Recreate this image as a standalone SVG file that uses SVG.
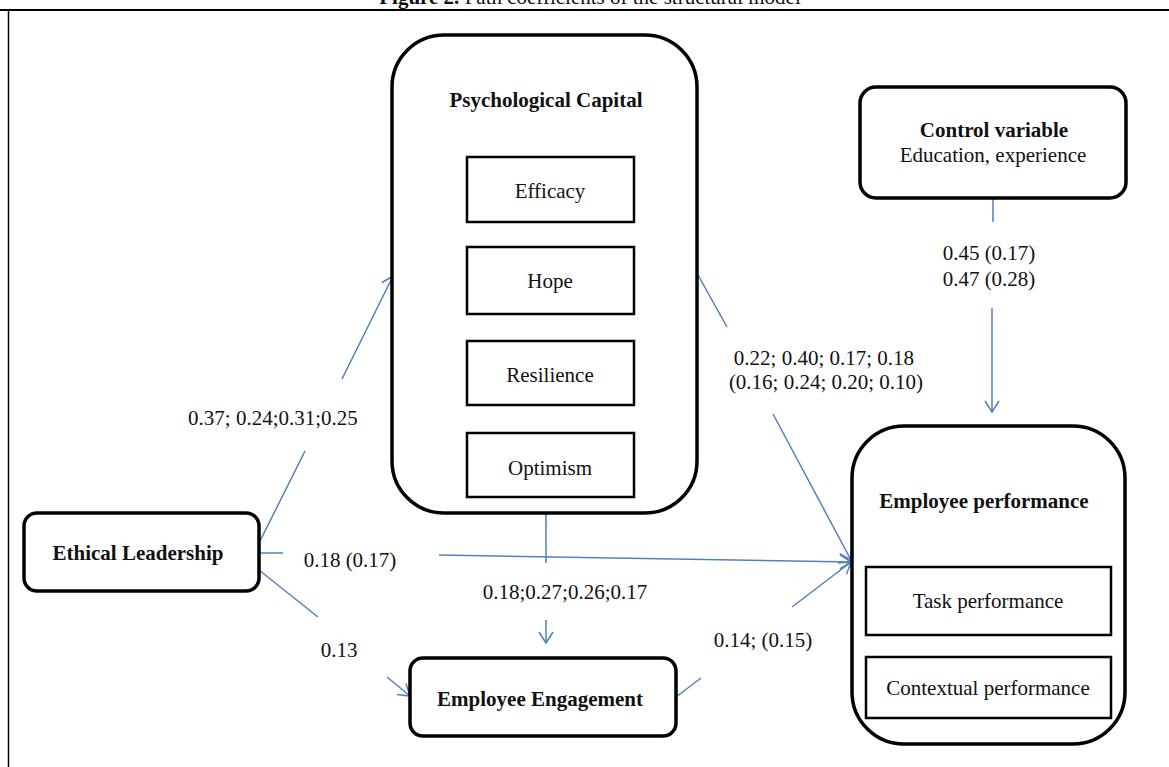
<svg xmlns="http://www.w3.org/2000/svg" width="1169" height="767" viewBox="0 0 1169 767">
<style>
text{font-family:"Liberation Serif","Times New Roman",serif;font-size:21px;fill:#111;text-anchor:middle}
.b{font-weight:bold}
.big{fill:#fff;stroke:#000;stroke-width:3.5}
.inner{fill:#fff;stroke:#000;stroke-width:2.5}
.c{fill:none;stroke:#4F81BD;stroke-width:1.5}
.frame{stroke:#000;fill:none}
</style>
<defs>
<marker id="arr" markerUnits="userSpaceOnUse" markerWidth="14" markerHeight="18" refX="12" refY="8" orient="auto" viewBox="0 0 14 18">
<path d="M1,1 L12,8 L1,15" fill="none" stroke="#4F81BD" stroke-width="1.5"/>
</marker>
</defs>
<rect width="1169" height="767" fill="#fff"/>
<g id="frame">
<line class="frame" x1="0" y1="10" x2="1169" y2="10" stroke-width="2"/>
<line class="frame" x1="8.5" y1="10" x2="8.5" y2="767" stroke-width="1.5"/>
<text x="590" y="4"><tspan class="b">Figure 2.</tspan> Path coefficients of the structural model</text>
</g>
<g id="connectors">
<line class="c" x1="259" y1="543" x2="305" y2="451"/>
<line class="c" x1="342" y1="379" x2="393" y2="276" marker-end="url(#arr)"/>
<line class="c" x1="259" y1="553" x2="283" y2="553"/>
<line class="c" x1="439" y1="555" x2="851" y2="562" marker-end="url(#arr)"/>
<line class="c" x1="259" y1="570" x2="318" y2="617"/>
<line class="c" x1="387" y1="677" x2="410" y2="696" marker-end="url(#arr)"/>
<line class="c" x1="546" y1="513" x2="546" y2="563"/>
<line class="c" x1="546" y1="620" x2="546" y2="643" marker-end="url(#arr)"/>
<line class="c" x1="676" y1="697" x2="701" y2="678"/>
<line class="c" x1="792" y1="607" x2="851" y2="562" marker-end="url(#arr)"/>
<line class="c" x1="698" y1="275" x2="727" y2="327"/>
<line class="c" x1="773" y1="414" x2="851" y2="560" marker-end="url(#arr)"/>
<line class="c" x1="993" y1="199" x2="993" y2="222"/>
<line class="c" x1="992" y1="308" x2="992" y2="412" marker-end="url(#arr)"/>
<text x="273" y="425">0.37; 0.24;0.31;0.25</text>
<text x="350" y="567">0.18 (0.17)</text>
<text x="339" y="657">0.13</text>
<text x="565" y="599">0.18;0.27;0.26;0.17</text>
<text x="763" y="647">0.14; (0.15)</text>
<text x="824" y="365">0.22; 0.40; 0.17; 0.18</text>
<text x="826" y="389">(0.16; 0.24; 0.20; 0.10)</text>
<text x="989" y="260">0.45 (0.17)</text>
<text x="989" y="286">0.47 (0.28)</text>
</g>
<g id="psycap">
<rect class="big" x="392" y="35" width="305" height="478" rx="52"/>
<text class="b" x="546" y="107">Psychological Capital</text>
</g>
<g id="efficacy">
<rect class="inner" x="467" y="157" width="167" height="65"/>
<text x="550" y="198">Efficacy</text>
</g>
<g id="hope">
<rect class="inner" x="467" y="247" width="167" height="67"/>
<text x="550" y="288">Hope</text>
</g>
<g id="resilience">
<rect class="inner" x="467" y="341" width="167" height="64"/>
<text x="550" y="382">Resilience</text>
</g>
<g id="optimism">
<rect class="inner" x="467" y="433" width="167" height="64"/>
<text x="550" y="475">Optimism</text>
</g>
<g id="control">
<rect class="big" x="860" y="87" width="266" height="111" rx="16"/>
<text class="b" x="994" y="137">Control variable</text>
<text x="993" y="162">Education, experience</text>
</g>
<g id="ethical">
<rect class="big" x="24" y="513" width="235" height="78" rx="13"/>
<text class="b" x="138" y="560">Ethical Leadership</text>
</g>
<g id="engagement">
<rect class="big" x="410" y="658" width="266" height="78" rx="13"/>
<text class="b" x="540" y="706">Employee Engagement</text>
</g>
<g id="performance">
<rect class="big" x="852" y="426" width="273" height="318" rx="52"/>
<text class="b" x="984" y="508">Employee performance</text>
</g>
<g id="task">
<rect class="inner" x="866" y="567" width="245" height="68"/>
<text x="988" y="608">Task performance</text>
</g>
<g id="contextual">
<rect class="inner" x="866" y="657" width="245" height="61"/>
<text x="988" y="695">Contextual performance</text>
</g>
</svg>
